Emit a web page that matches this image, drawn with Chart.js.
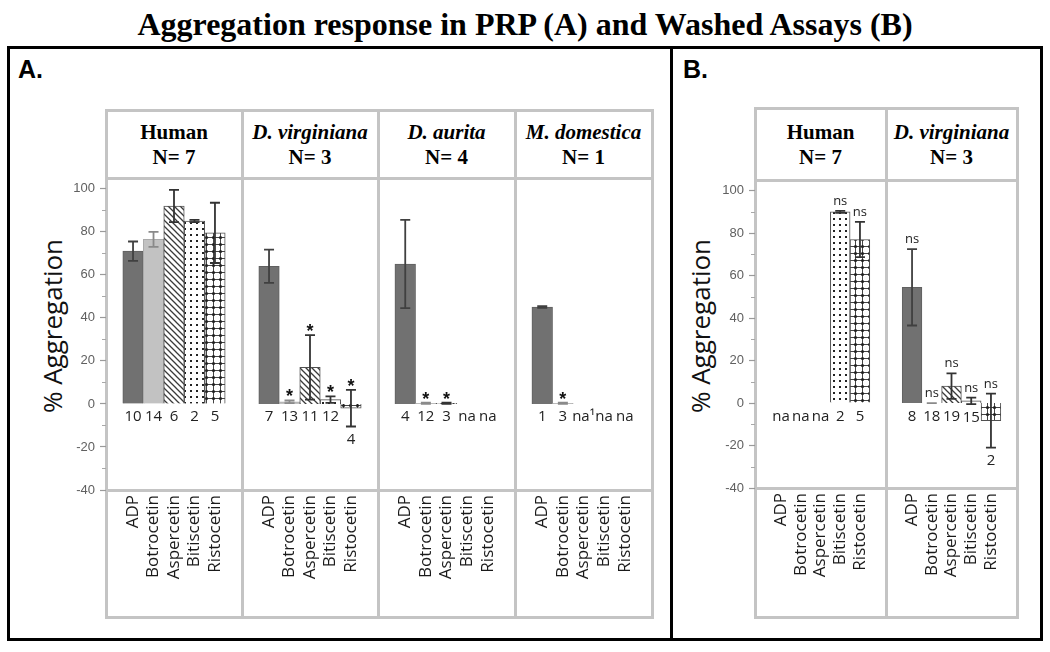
<!DOCTYPE html>
<html><head><meta charset="utf-8">
<script src="https://cdn.jsdelivr.net/npm/chart.js@4.4.1/dist/chart.umd.min.js"></script>
<style>
html,body{margin:0;padding:0;background:#fff;}
#stage{position:relative;width:1050px;height:652px;overflow:hidden;background:#fff;}
.abs{position:absolute;}
.title{left:0;top:8px;width:1050px;text-align:center;font:bold 32px/32px "Liberation Serif","Times New Roman",serif;color:#000;white-space:nowrap;}
.frame{border:3px solid #000;box-sizing:border-box;}
.plab{font:bold 25px/25px "Liberation Sans",Arial,sans-serif;color:#000;}
.gl{background:#c4c4c4;}
.hdr{text-align:center;font:bold 21px/25px "Liberation Serif","Times New Roman",serif;color:#000;white-space:nowrap;}
.ytitle{width:220px;height:36px;line-height:36px;text-align:center;font:26px "Open Sans",sans-serif;transform:translate(-50%,-50%) rotate(-90deg);color:#111;white-space:nowrap;}
canvas{position:absolute;}
</style></head><body><div id="stage"></div>
<script>
// ---------- DATA ----------
const chartTitle = 'Aggregation response in PRP (A) and Washed Assays (B)';
const axisTitle = '% Aggregation';
const agonists = ['ADP','Botrocetin','Aspercetin','Bitiscetin','Ristocetin'];
const yTickValues = [-40,-20,0,20,40,60,80,100];
const yMinorTicks = [-30,-10,10,30,50,70,90];
const yMin = -40, yMax = 105;

const prpSpecies  = ['Human','D. virginiana','D. aurita','M. domestica'];
const prpSpeciesN = ['N= 7','N= 3','N= 4','N= 1'];
const washedSpecies  = ['Human','D. virginiana'];
const washedSpeciesN = ['N= 7','N= 3'];

// Panel A (PRP)
const prpHumanMean  = [71, 76.5, 92, 85, 79.5];
const prpHumanErr   = [4.5, 3.5, 7.5, 0.5, 14];
const prpHumanCount = ['10','14','6','2','5'];
const prpHumanSig   = ['','','','',''];

const prpVirgMean  = [64, 1, 17, 2, -2];
const prpVirgErr   = [7.7, 0.6, 15, 1.5, 8.5];
const prpVirgCount = ['7','13','11','12','4'];
const prpVirgSig   = ['','*','*','*','*'];

const prpAuritaMean  = [65, 0.3, 0.3, null, null];
const prpAuritaErr   = [20.5, 0.3, 0.3, null, null];
const prpAuritaCount = ['4','12','3','na','na'];
const prpAuritaSig   = ['','*','*','',''];

const prpDomMean  = [45, 0.3, null, null, null];
const prpDomErr   = [0.4, 0.3, null, null, null];
const prpDomCount = ['1','3','na\u00B9','na','na'];
const prpDomSig   = ['','*','','',''];

// Panel B (Washed)
const wHumanMean  = [null, null, null, 90, 77];
const wHumanErr   = [null, null, null, 0.5, 8.3];
const wHumanCount = ['na','na','na','2','5'];
const wHumanSig   = ['','','','ns','ns'];

const wVirgMean  = [54.5, 0, 8, 1, -8.3];
const wVirgErr   = [18, 0, 6, 1.5, 12.7];
const wVirgCount = ['8','18','19','15','2'];
const wVirgSig   = ['ns','ns','ns','ns','ns'];

// ---------- STYLE / LAYOUT ----------
function makePattern(kind){
  const c = document.createElement('canvas');
  const g = c.getContext('2d');
  if(kind==='hatch'){
    c.width=6;c.height=6;g.fillStyle='#fff';g.fillRect(0,0,6,6);
    g.strokeStyle='#3a3a3a';g.lineWidth=1.3;g.beginPath();
    g.moveTo(-1,-1);g.lineTo(7,7);g.moveTo(-1,5);g.lineTo(1,7);g.moveTo(5,-1);g.lineTo(7,1);g.stroke();
  } else if(kind==='dots'){
    c.width=6;c.height=6;g.fillStyle='#fff';g.fillRect(0,0,6,6);
    g.fillStyle='#222';g.fillRect(2,2,2,2);
  } else {
    c.width=7;c.height=7;g.fillStyle='#fff';g.fillRect(0,0,7,7);
    g.strokeStyle='#444';g.lineWidth=1;g.beginPath();
    g.moveTo(3.5,0);g.lineTo(3.5,7);g.moveTo(0,3.5);g.lineTo(7,3.5);g.stroke();
    g.fillStyle='#222';g.beginPath();g.arc(3.5,3.5,1.6,0,Math.PI*2);g.fill();
  }
  return c.getContext('2d').createPattern(c,'repeat');
}
const fills = ['#717171','#c2c2c2',makePattern('hatch'),makePattern('dots'),makePattern('grid')];
const borders = ['#606060','#aaaaaa','#505050','#505050','#505050'];
const errColors = ['#404040','#8a8a8a','#333333','#333333','#333333'];

const axisW = 50, xPad = 0.82;

const panels = [
  {frame:[7,46,666,595], label:'A.', labelPos:[18,57], ytitle:[52,326],
   xs:[106,242,378,515,652], ys:[110,178,490,617],
   cols:[
    {name:prpSpecies[0], n:prpSpeciesN[0], italic:false, mean:prpHumanMean, err:prpHumanErr, count:prpHumanCount, sig:prpHumanSig},
    {name:prpSpecies[1], n:prpSpeciesN[1], italic:true, mean:prpVirgMean, err:prpVirgErr, count:prpVirgCount, sig:prpVirgSig},
    {name:prpSpecies[2], n:prpSpeciesN[2], italic:true, mean:prpAuritaMean, err:prpAuritaErr, count:prpAuritaCount, sig:prpAuritaSig},
    {name:prpSpecies[3], n:prpSpeciesN[3], italic:true, mean:prpDomMean, err:prpDomErr, count:prpDomCount, sig:prpDomSig}
   ]},
  {frame:[670,46,373,595], label:'B.', labelPos:[683,57], ytitle:[700,326],
   xs:[755,886,1017], ys:[108,180,488,617],
   cols:[
    {name:washedSpecies[0], n:washedSpeciesN[0], italic:false, mean:wHumanMean, err:wHumanErr, count:wHumanCount, sig:wHumanSig},
    {name:washedSpecies[1], n:washedSpeciesN[1], italic:true, mean:wVirgMean, err:wVirgErr, count:wVirgCount, sig:wVirgSig}
   ]}
];

const stage = document.getElementById('stage');
function el(cls, css, html){
  const d=document.createElement('div'); d.className='abs '+cls;
  Object.assign(d.style, css); if(html!==undefined) d.innerHTML=html; stage.appendChild(d); return d;
}
el('title',{}, chartTitle);

function annotPlugin(col, first){
  return {
    id:'annot',
    afterDatasetsDraw(chart){
      const {ctx, scales:{x, y}, chartArea} = chart;
      ctx.save();
      for(let i=0;i<agonists.length;i++){
        const px = x.getPixelForValue(i);
        const m = col.mean[i], e = col.err[i];
        const zero = y.getPixelForValue(0);
        let topPx = zero, botPx = zero;
        if(m !== null && m !== undefined){
          const hi = y.getPixelForValue(m + e), lo = y.getPixelForValue(m - e);
          ctx.strokeStyle = errColors[i]; ctx.lineWidth = 1.8;
          ctx.beginPath();
          ctx.moveTo(px, hi); ctx.lineTo(px, lo);
          ctx.moveTo(px-5, hi); ctx.lineTo(px+5, hi);
          ctx.moveTo(px-5, lo); ctx.lineTo(px+5, lo);
          ctx.stroke();
          topPx = Math.min(topPx, hi, y.getPixelForValue(m));
          botPx = Math.max(botPx, lo, y.getPixelForValue(m));
        }
        ctx.textAlign='center'; ctx.textBaseline='alphabetic';
        if(col.sig[i]==='*'){
          ctx.fillStyle='#111'; ctx.font='bold 18px "Liberation Sans"';
          ctx.fillText('*', px, topPx + 2);
        } else if(col.sig[i]){
          ctx.fillStyle='#222'; ctx.font='13px "Open Sans"';
          ctx.fillText(col.sig[i], px, topPx - 6);
        }
        ctx.fillStyle='#222'; ctx.font='15px "Open Sans"';
        ctx.fillText(col.count[i], px, botPx + 17.5);
      }
      if(first){
        ctx.strokeStyle='#a8a8a8'; ctx.lineWidth=1;
        ctx.beginPath();
        yMinorTicks.forEach(v=>{const py=Math.round(y.getPixelForValue(v))+0.5; ctx.moveTo(chartArea.left-4,py); ctx.lineTo(chartArea.left,py);});
        ctx.stroke();
      }
      ctx.restore();
    }
  };
}

panels.forEach(p=>{
  el('frame',{left:p.frame[0]+'px',top:p.frame[1]+'px',width:p.frame[2]+'px',height:p.frame[3]+'px'});
  el('plab',{left:p.labelPos[0]+'px',top:p.labelPos[1]+'px'}, p.label);
  el('ytitle',{left:p.ytitle[0]+'px',top:p.ytitle[1]+'px'}, axisTitle);
  const xs=p.xs, ys=p.ys;
  xs.forEach(x=>el('gl',{left:(x-1.5)+'px',top:(ys[0]-1.5)+'px',width:'3px',height:(ys[3]-ys[0]+3)+'px'}));
  ys.forEach(y=>el('gl',{left:(xs[0]-1.5)+'px',top:(y-1.5)+'px',width:(xs[xs.length-1]-xs[0]+3)+'px',height:'3px'}));
  p.cols.forEach((col,ci)=>{
    const nameHtml = col.italic ? '<i>'+col.name+'</i>' : col.name;
    el('hdr',{left:xs[ci]+'px',width:(xs[ci+1]-xs[ci])+'px',top:((ys[0]+ys[1])/2+1-25)+'px'}, nameHtml+'<br>'+col.n);
    const first = ci===0;
    const cv=document.createElement('canvas');
    const w = xs[ci+1]-xs[ci] + (first?axisW:0);
    const h = ys[3]-ys[1];
    const xH = ys[3]-ys[2];
    cv.width=w; cv.height=h;
    cv.style.left=(xs[ci]-(first?axisW:0))+'px'; cv.style.top=ys[1]+'px';
    cv.style.width=w+'px'; cv.style.height=h+'px';
    stage.appendChild(cv);
    new Chart(cv,{
      type:'bar',
      data:{datasets:[{
        data: col.mean.map((m,i)=>({x:i,y:m})),
        backgroundColor: fills, borderColor: borders, borderWidth:1,
        categoryPercentage:1, barPercentage:1
      }]},
      options:{
        responsive:false, maintainAspectRatio:false, animation:false, events:[],
        layout:{padding:0},
        plugins:{legend:{display:false}, tooltip:{enabled:false}},
        scales:{
          x:{type:'linear', min:-0.5-xPad, max:4.5+xPad, offset:false,
             grid:{display:false, drawTicks:false, offset:false}, border:{display:false},
             afterBuildTicks:s=>{ s.ticks = agonists.map((_,i)=>({value:i})); },
             afterFit:s=>{ s.height=xH; s.paddingLeft=0; s.paddingRight=0; s.paddingTop=0; s.paddingBottom=0; },
             ticks:{autoSkip:false, minRotation:90, maxRotation:90, padding:5, color:'#1a1a1a',
                    font:{family:'Open Sans', size:17}, callback:v=>agonists[v] ?? ''}},
          y:{type:'linear', display:first, min:yMin, max:yMax,
             grid:{drawOnChartArea:false, drawTicks:true, tickLength:6, tickColor:'#9a9a9a', tickWidth:1.2},
             border:{display:false},
             afterBuildTicks:s=>{ s.ticks = yTickValues.map(v=>({value:v})); },
             afterFit:s=>{ if(first) s.width=axisW; s.paddingTop=0; s.paddingBottom=0; s.paddingLeft=0; s.paddingRight=0; },
             ticks:{padding:5, color:'#606060', font:{family:'Liberation Sans', size:13}, callback:v=>String(v)}}
        }
      },
      plugins:[annotPlugin(col, first)]
    });
  });
});
</script></body></html>
